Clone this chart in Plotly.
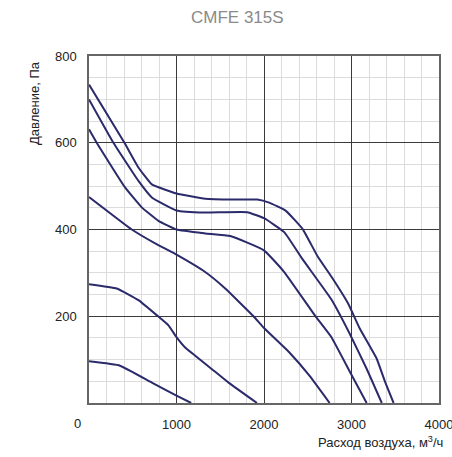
import plotly.graph_objects as go

# Data (airflow m3/h vs pressure Pa)
a_x = [0, 405, 565, 718, 1000, 1328, 1650, 1923, 2058, 2250, 2442, 2610, 2788, 2960, 3096, 3288, 3385, 3481]
a_y = [734, 600, 543, 504, 483, 471, 469, 469, 462, 443, 401, 339, 286, 230, 171, 102, 48, 0]

b_x = [0, 279, 565, 718, 1000, 1328, 1808, 2000, 2231, 2442, 2769, 2981, 3173, 3346]
b_y = [700, 600, 512, 474, 444, 439, 440, 426, 394, 331, 239, 159, 79, 0]

c_x = [0, 88, 412, 603, 794, 1000, 1328, 1615, 2000, 2231, 2596, 2769, 2981, 3173]
c_y = [631, 600, 497, 451, 420, 400, 391, 385, 352, 302, 198, 152, 72, 0]

d_x = [0, 489, 756, 1000, 1328, 1557, 1880, 2000, 2288, 2519, 2750]
d_y = [475, 400, 368, 342, 302, 264, 200, 173, 117, 63, 0]

e_x = [0, 317, 565, 776, 908, 1000, 1099, 1214, 1405, 1595, 1920]
e_y = [274, 264, 237, 202, 179, 152, 128, 109, 78, 47, 0]

f_x = [0, 355, 718, 1000, 1168]
f_y = [96, 86, 47, 17, 0]

curves = [(a_x, a_y), (b_x, b_y), (c_x, c_y), (d_x, d_y), (e_x, e_y), (f_x, f_y)]

x_ticks = [1000, 2000, 3000, 4000]
y_ticks = [200, 400, 600, 800]

title_text = "CMFE 315S"
x_title = "Расход воздуха, м<sup>3</sup>/ч"
y_title = "Давление, Па"

line_color = "#2b2a6b"
font_family = "Liberation Sans, Arial, sans-serif"

fig = go.Figure()
for cx, cy in curves:
    fig.add_trace(go.Scatter(
        x=cx, y=cy, mode="lines",
        line=dict(color=line_color, width=2, shape="spline", smoothing=0.35),
        showlegend=False, hoverinfo="skip"))

fig.update_layout(
    width=452, height=457,
    margin=dict(l=89, r=13, t=56, b=54, autoexpand=False),
    paper_bgcolor="white", plot_bgcolor="white",
    font=dict(family=font_family, size=13, color="#222222"),
    showlegend=False,
)

fig.update_xaxes(
    range=[0, 4000], tickvals=x_ticks, ticktext=[str(v) for v in x_ticks],
    showgrid=True, gridcolor="#3a3a3a", gridwidth=1,
    minor=dict(dtick=200, tick0=0, showgrid=True, gridcolor="#dcdcdc", gridwidth=1.3),
    showline=True, linecolor="#666666", linewidth=1.5, mirror=True,
    ticks="", ticklabelstandoff=9, zeroline=False, automargin=False,
    ticklabeloverflow="allow",
    tickfont=dict(size=13, color="#222222"),
)
fig.update_yaxes(
    range=[0, 800], tickvals=y_ticks, ticktext=[str(v) for v in y_ticks],
    showgrid=True, gridcolor="#3a3a3a", gridwidth=1,
    minor=dict(dtick=50, tick0=0, showgrid=True, gridcolor="#dcdcdc", gridwidth=1.3),
    showline=True, linecolor="#666666", linewidth=1.5, mirror=True,
    ticks="", ticklabelstandoff=8, zeroline=False, automargin=False,
    ticklabeloverflow="allow",
    tickfont=dict(size=13, color="#222222"),
)

# Title
fig.add_annotation(text=title_text, xref="paper", yref="paper",
                   x=(237 - 89) / 350, y=1 + (56 - 17) / 347.5,
                   xanchor="center", yanchor="middle", showarrow=False,
                   font=dict(size=17, color="#8a8a8a", family=font_family))
# Offset "0" tick label
fig.add_annotation(text="0", xref="paper", yref="paper",
                   x=(77 - 89) / 350, y=-(424 - 403.5) / 347.5,
                   xanchor="center", yanchor="middle", showarrow=False,
                   font=dict(size=13, color="#222222", family=font_family))
# X axis title
fig.add_annotation(text=x_title, xref="paper", yref="paper",
                   x=(445 - 89) / 350, y=-(443 - 403.5) / 347.5,
                   xanchor="right", yanchor="middle", showarrow=False,
                   font=dict(size=13, color="#222222", family=font_family))
# Y axis title
fig.add_annotation(text=y_title, xref="paper", yref="paper",
                   x=(35 - 89) / 350, y=(403.5 - 103) / 347.5,
                   xanchor="center", yanchor="middle", textangle=-90, showarrow=False,
                   font=dict(size=13, color="#222222", family=font_family))

fig.write_html("out.html",
               config={"displayModeBar": False},
               post_script="document.body.style.margin='0';document.body.style.padding='0';")
